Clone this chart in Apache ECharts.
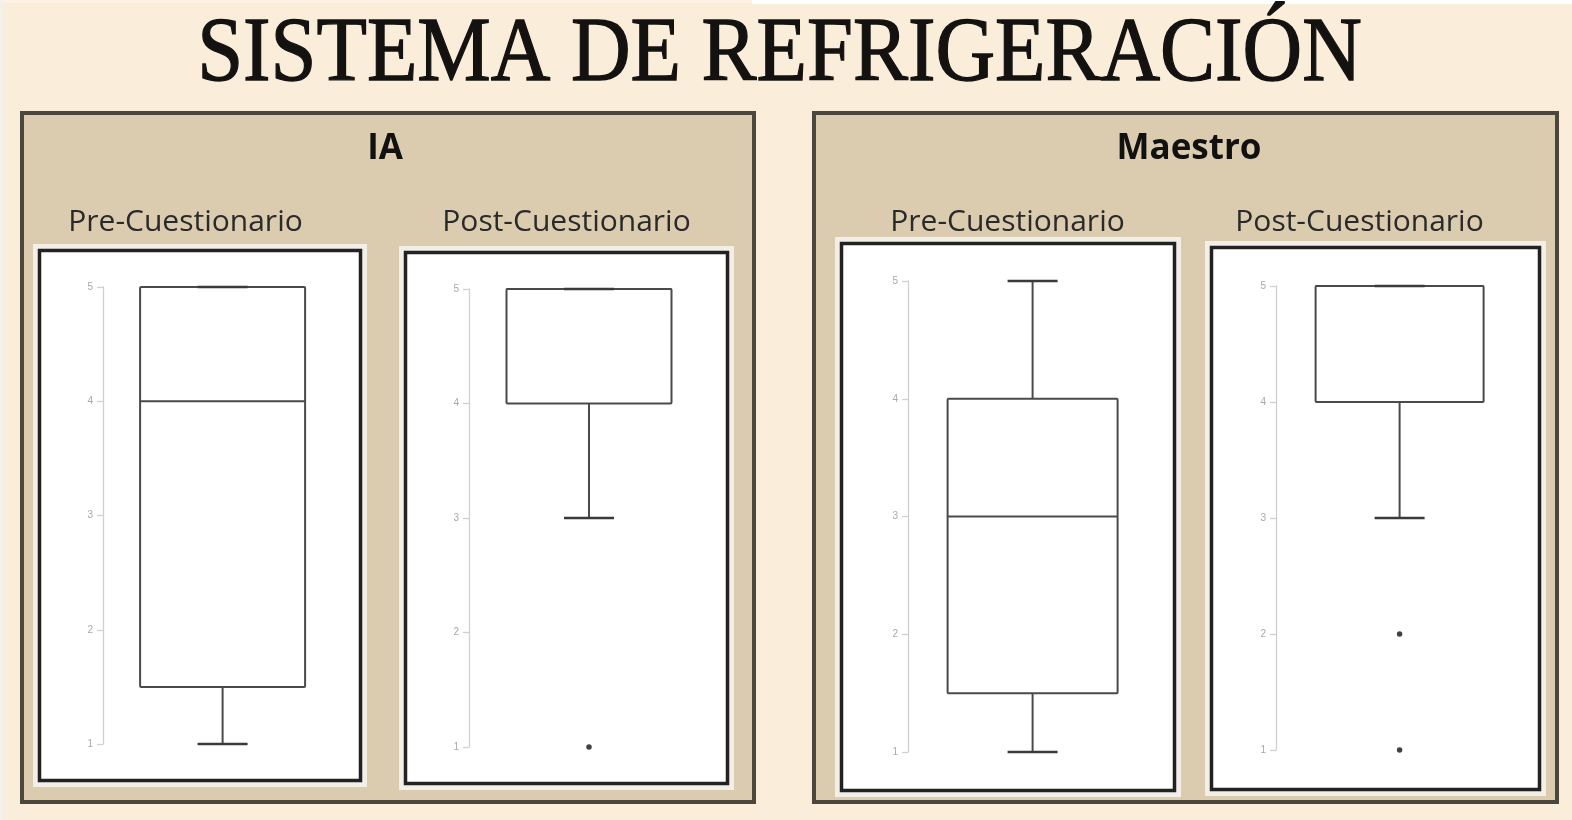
<!DOCTYPE html>
<html>
<head>
<meta charset="utf-8">
<script src="https://cdn.jsdelivr.net/npm/echarts@6/dist/echarts.min.js"></script>
<style>
  html, body { margin: 0; padding: 0; background: #FAEEDA; }
  #chart { width: 1572px; height: 820px; }
</style>
</head>
<body>
<div id="chart"></div>
<script>
// ---------- DATA ----------
const mainTitle = 'SISTEMA DE REFRIGERACIÓN';
const groups = ['IA', 'Maestro'];
const phases = ['Pre-Cuestionario', 'Post-Cuestionario'];
const yTicks = [1, 2, 3, 4, 5];
// [min, Q1, median, Q3, max]
const iaPre = [1, 1.5, 4, 5, 5];
const iaPost = [3, 4, 5, 5, 5];
const maestroPre = [1, 1.5, 3, 4, 5];
const maestroPost = [3, 4, 5, 5, 5];
// outliers
const iaPreOutliers = [];
const iaPostOutliers = [1];
const maestroPreOutliers = [];
const maestroPostOutliers = [2, 1];

// ---------- LAYOUT (pixels) ----------
const panels = [
  { x: 20, y: 111, w: 736, h: 693, label: groups[0], cx: 385 },
  { x: 812, y: 111, w: 747, h: 693, label: groups[1], cx: 1189 }
];
const plots = [
  { stats: iaPre, out: iaPreOutliers, phase: phases[0], frame: [38, 249, 324, 533], axisX: 103, top: 287, bottom: 744, center: 222.6, boxW: 165, titleX: 185.5 },
  { stats: iaPost, out: iaPostOutliers, phase: phases[1], frame: [404, 251, 325, 534], axisX: 469, top: 289, bottom: 747, center: 589, boxW: 165, titleX: 566.5 },
  { stats: maestroPre, out: maestroPreOutliers, phase: phases[0], frame: [840, 242, 336, 550], axisX: 908, top: 281, bottom: 752, center: 1032.6, boxW: 170, titleX: 1007.5 },
  { stats: maestroPost, out: maestroPostOutliers, phase: phases[1], frame: [1210, 246, 331, 545], axisX: 1276, top: 286, bottom: 750, center: 1399.6, boxW: 168, titleX: 1359.5 }
];
const capWidth = 50;
const lineColor = '#4a4a4a';

const chart = echarts.init(document.getElementById('chart'), null, { renderer: 'canvas' });

const graphics = [];
// top stray strips
graphics.push({ type: 'rect', shape: { x: 752, y: 0, width: 820, height: 4 }, style: { fill: '#ffffff' }, z: 0, silent: true });
graphics.push({ type: 'rect', shape: { x: 0, y: 0, width: 752, height: 3 }, style: { fill: '#FCF3E4' }, z: 0, silent: true });
graphics.push({ type: 'rect', shape: { x: 0, y: 0, width: 3, height: 820 }, style: { fill: '#F4F0EA' }, z: 0, silent: true });

// main title
graphics.push({
  type: 'text', x: 779.5, y: 56, scaleX: 0.897, z: 3, silent: true,
  style: { text: mainTitle, font: 'normal 92px "Liberation Serif", serif', fill: '#141210', stroke: '#141210', lineWidth: 1.3, textAlign: 'center', textVerticalAlign: 'middle', verticalAlign: 'middle' }
});

panels.forEach(p => {
  graphics.push({ type: 'rect', shape: { x: p.x + 2, y: p.y + 2, width: p.w - 4, height: p.h - 4 }, style: { fill: '#DBCBAF', stroke: '#4c473d', lineWidth: 4 }, z: 0, silent: true });
  graphics.push({ type: 'text', x: p.cx, y: 149, z: 3, silent: true,
    style: { text: p.label, font: 'bold 35px "Open Sans", "Noto Sans", sans-serif', fill: '#111111', textAlign: 'center', verticalAlign: 'middle', textVerticalAlign: 'middle' } });
});

plots.forEach(pl => {
  const [fx, fy, fw, fh] = pl.frame;
  graphics.push({ type: 'rect', shape: { x: fx - 5, y: fy - 5, width: fw + 10, height: fh + 10 }, style: { fill: '#F2EEE8' }, z: 1, silent: true });
  graphics.push({ type: 'rect', shape: { x: fx + 1.5, y: fy + 1.5, width: fw - 3, height: fh - 3 }, style: { fill: '#ffffff', stroke: '#222222', lineWidth: 3.5 }, z: 1, silent: true });
  graphics.push({ type: 'text', x: pl.titleX, y: 222, z: 3, silent: true,
    style: { text: pl.phase, font: 'normal 30px "Open Sans", "Noto Sans", sans-serif', fill: '#2a2a2a', textAlign: 'center', verticalAlign: 'middle', textVerticalAlign: 'middle' } });
});

const grids = [], xAxes = [], yAxes = [], series = [];
plots.forEach((pl, i) => {
  grids.push({ left: pl.axisX, top: pl.top, width: 2 * (pl.center - pl.axisX), height: pl.bottom - pl.top, containLabel: false });
  xAxes.push({ type: 'category', gridIndex: i, data: [pl.phase], show: false });
  yAxes.push({
    type: 'value', gridIndex: i, min: yTicks[0], max: yTicks[yTicks.length - 1], interval: 1, z: 6,
    axisLine: { show: true, lineStyle: { color: '#d0d0d0', width: 1.3 } },
    axisTick: { show: true, length: 6, lineStyle: { color: '#d0d0d0', width: 1.3 } },
    axisLabel: { color: '#a8a8a8', fontSize: 10, margin: 10, fontFamily: 'Liberation Sans' },
    splitLine: { show: false }
  });
  series.push({
    type: 'custom', xAxisIndex: i, yAxisIndex: i, z: 5,
    data: [[0].concat(pl.stats)],
    encode: { x: 0, y: [1, 2, 3, 4, 5] },
    renderItem: (params, api) => {
      const cat = api.value(0);
      const pMin = api.coord([cat, api.value(1)]);
      const pQ1 = api.coord([cat, api.value(2)]);
      const pMed = api.coord([cat, api.value(3)]);
      const pQ3 = api.coord([cat, api.value(4)]);
      const pMax = api.coord([cat, api.value(5)]);
      const cx = pMed[0];
      const hw = pl.boxW / 2, hc = capWidth / 2;
      const ls = { stroke: lineColor, lineWidth: 2, fill: null };
      return {
        type: 'group',
        children: [
          { type: 'line', shape: { x1: cx, y1: pQ1[1], x2: cx, y2: pMin[1] }, style: ls },
          { type: 'line', shape: { x1: cx, y1: pQ3[1], x2: cx, y2: pMax[1] }, style: ls },
          { type: 'rect', shape: { x: cx - hw, y: pQ3[1], width: pl.boxW, height: pQ1[1] - pQ3[1], r: 1 }, style: { stroke: lineColor, lineWidth: 2, fill: '#ffffff' } },
          { type: 'line', shape: { x1: cx - hw, y1: pMed[1], x2: cx + hw, y2: pMed[1] }, style: ls },
          { type: 'line', shape: { x1: cx - hc, y1: pMin[1], x2: cx + hc, y2: pMin[1] }, style: { stroke: '#3a3a3a', lineWidth: 2.4 } },
          { type: 'line', shape: { x1: cx - hc, y1: pMax[1], x2: cx + hc, y2: pMax[1] }, style: { stroke: '#3a3a3a', lineWidth: 2.4 } }
        ]
      };
    }
  });
  if (pl.out.length) {
    series.push({
      type: 'scatter', xAxisIndex: i, yAxisIndex: i, z: 7,
      data: pl.out.map(v => [0, v]),
      symbol: 'circle', symbolSize: 5.5,
      itemStyle: { color: '#111111' }
    });
  }
});

chart.setOption({
  backgroundColor: '#FAEEDA',
  animation: false,
  grid: grids,
  xAxis: xAxes,
  yAxis: yAxes,
  series: series,
  graphic: { elements: graphics }
});
</script>
</body>
</html>
